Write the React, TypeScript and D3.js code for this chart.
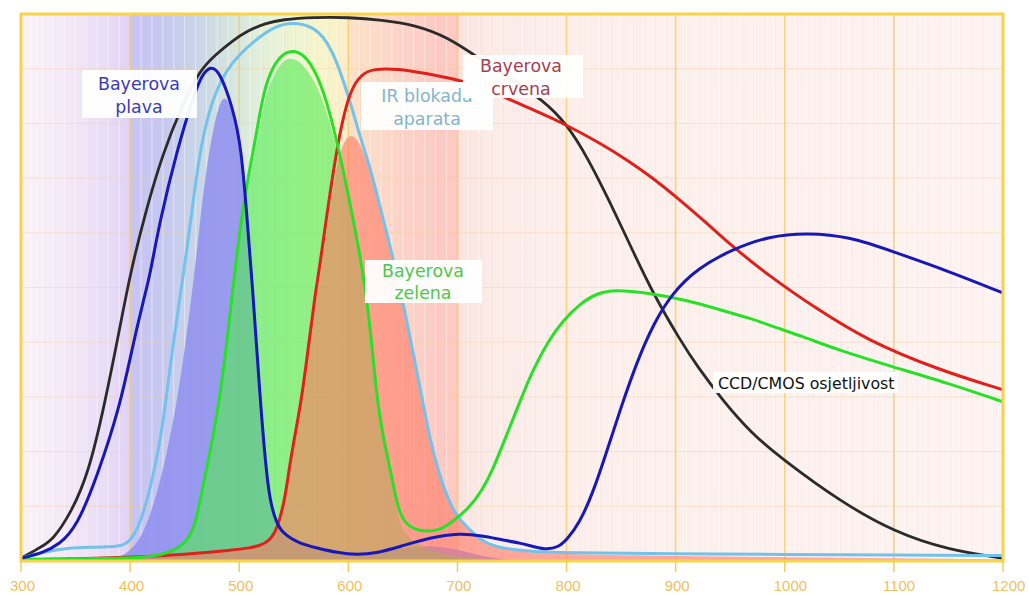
import React from 'react';
import * as d3 from 'd3';

type P = [number, number];

// x: wavelength (nm), y: relative sensitivity (%)
const xTickValues = [300, 400, 500, 600, 700, 800, 900, 1000, 1100, 1200];
const yGridValues = [10, 20, 30, 40, 50, 60, 70, 80, 90];

const ccdSensitivity: P[] = [
  [300, 0.5], [317, 2.4], [329, 3.8], [345, 8.5], [362, 16], [377, 29], [390, 42], [400, 52.5], [415, 64.5],
  [430, 74.5], [447, 83], [464, 89.8], [478, 92.5], [493, 95], [508, 97], [524, 98.3], [539, 99],
  [569, 99.4], [600, 99.4], [631, 98.9], [661, 98], [691, 95.8], [722, 91.6], [750, 88], [778, 84.3],
  [800, 80], [820, 73.5], [840, 65.5], [860, 57], [879, 49], [904, 40.4], [920, 35.5], [943, 29.4],
  [970, 23.2], [1000, 18.3], [1050, 11], [1100, 5.3], [1150, 2], [1200, 0.5],
];

const bayerBlue: P[] = [
  [300, 0.5], [320, 1.5], [335, 3], [351, 6.2], [370, 15.5], [391, 28.5], [402, 39], [412, 47.5],
  [418, 52], [427, 62], [443, 75.1], [458, 85], [466, 89], [474, 90.5], [482, 89.5], [494, 83], [502, 75.5],
  [507, 63], [512, 50.8], [519, 30], [524, 18], [528, 11], [534, 7], [540, 5], [555, 3.2], [571, 2.4],
  [590, 1.5], [608, 1.1], [627, 1.5], [647, 2.6], [675, 4.3], [702, 5.1], [723, 4.6], [740, 3.9],
  [757, 3.3], [772, 2.5], [782, 2.1], [792, 2.5], [800, 3.8], [812, 7], [824, 12.4], [836, 19.5],
  [849, 27.6], [865, 36.7], [880, 43.5], [897, 49], [920, 53.5], [952, 57], [986, 59.4], [1020, 60],
  [1060, 59.3], [1100, 56.5], [1150, 53], [1200, 49],
];

const irCutFilter: P[] = [
  [300, 0.5], [320, 1.6], [342, 2.4], [370, 2.5], [391, 2.7], [396, 3.2], [400, 3.8], [406, 5.5],
  [412, 8.8], [416, 11.5], [421, 15.5], [427, 21.5], [432, 28], [437, 36], [443, 44.5], [448, 51.4],
  [452, 56.9], [458, 66], [464, 75.1], [475, 84.5], [489, 90], [500, 92.5], [513, 95], [533, 97.8],
  [548, 98.5], [569, 97.8], [585, 94], [601, 84.5], [610, 78], [620, 72], [630, 64], [641, 55.6],
  [656, 41.7], [668, 29.4], [675, 22.1], [683, 16], [692, 11], [700, 8], [709, 6.2], [720, 4],
  [733, 2.6], [760, 1.8], [800, 1.5], [900, 1.3], [1000, 1.2], [1100, 1.1], [1200, 1.0],
];

const bayerGreen: P[] = [
  [300, 0.3], [350, 0.4], [400, 0.5], [420, 0.8], [435, 1.5], [446, 2.5], [455, 4.5], [460, 7],
  [464, 11], [473, 19.5], [482, 29.4], [490, 42], [498, 56.9], [507, 69], [513, 75.1], [519, 82],
  [525, 88], [537, 92.5], [549, 93.5], [560, 92.5], [570, 89.5], [580, 84.3], [590, 76.4], [601, 66],
  [613, 53.7], [620, 43], [626, 30], [632, 22.5], [638, 17.2], [643, 12], [647, 8.8], [652, 7],
  [660, 5.8], [672, 5.3], [685, 5.8], [693, 6.8], [710, 9.5], [723, 13], [733, 17], [742, 21.5],
  [757, 29], [767, 34], [783, 40.2], [797, 44], [812, 47], [828, 49], [845, 49.6], [874, 49],
  [910, 47.7], [941, 45.9], [970, 44.3], [987, 43], [1017, 41], [1050, 38.5], [1099, 35.5],
  [1150, 32.5], [1200, 29.1],
];

const bayerRed: P[] = [
  [300, 0.2], [350, 0.4], [403, 0.7], [450, 1.2], [494, 2], [510, 2.4], [519, 2.8], [528, 3.8],
  [533, 5.3], [537, 7.5], [542, 11.5], [546, 17.2], [551, 23], [557, 29.4], [564, 40], [569, 48],
  [575, 55.5], [580, 62.9], [590, 76.4], [601, 86], [612, 89], [623, 90], [645, 90], [670, 89.2],
  [702, 87.9], [725, 86.5], [748, 84.3], [775, 82], [797, 80], [830, 76.5], [858, 73], [879, 70],
  [901, 66.5], [930, 61.5], [952, 57.5], [987, 51.9], [1030, 46], [1075, 40.4], [1140, 35], [1200, 31.3],
];

// effective (filtered) responses, drawn as filled areas
const blueResponse: P[] = [
  [380, 0], [392, 0.8], [400, 2], [409, 3.8], [420, 9], [432, 18], [443, 29], [451, 40], [458, 51],
  [464, 62], [470, 72], [477, 80], [484, 85], [490, 84.5], [496, 80.5], [502, 74], [507, 63],
  [512, 50], [519, 29.5], [524, 17.5], [528, 10.5], [534, 6.5], [540, 4.5], [555, 3], [571, 2.2],
  [590, 1.4], [608, 1], [627, 1.3], [647, 2.2], [675, 3], [702, 2], [720, 1], [740, 0.4], [760, 0],
];

const greenResponse: P[] = [
  [420, 0], [435, 1.2], [446, 2.2], [455, 4], [464, 10.5], [473, 19], [482, 28.5], [490, 41],
  [498, 55.5], [507, 67.5], [513, 73.5], [519, 80], [525, 86], [537, 91], [547, 92.2], [558, 91],
  [570, 87.5], [580, 82.5], [590, 75], [601, 65], [613, 53], [620, 42.5], [626, 29.5], [632, 21.5],
  [638, 16], [643, 10.5], [647, 7], [652, 5], [660, 3.5], [672, 2], [693, 1], [720, 0.4], [750, 0],
];

const redResponse: P[] = [
  [300, 0.2], [350, 0.4], [403, 0.7], [450, 1.2], [494, 2], [519, 2.8], [528, 3.7], [537, 7.3],
  [546, 16.8], [557, 28.8], [564, 39], [569, 46.5], [575, 53.5], [580, 60.5], [590, 74], [600, 78.5],
  [610, 77], [620, 71.5], [630, 63.5], [641, 55.3], [656, 41.5], [668, 29.2], [675, 22], [683, 15.8],
  [692, 10.8], [700, 7.8], [709, 6], [720, 3.8], [733, 2.5], [760, 1.6], [800, 1.2], [900, 0.9],
  [1000, 0.7], [1100, 0.5], [1200, 0.3],
];

const spectrumStops: [number, string][] = [
  [300, '#fbf3f8'], [340, '#f4e9f7'], [380, '#e9dcf6'], [399, '#e0d3f6'], [400.5, '#c8c4f4'],
  [430, '#c6c8f0'], [460, '#c8d4e8'], [490, '#d4e4e0'], [520, '#e2efda'], [550, '#eef4d2'],
  [580, '#f8f4c8'], [598, '#faeecb'], [602, '#fce2c8'], [640, '#fcd6c8'], [680, '#fccbc4'],
  [699, '#fcc8c2'], [702, '#fbe4df'], [730, '#fbebe7'], [800, '#fcefeb'], [1200, '#fdf3f1'],
];

const labels = [
  { lines: ['Bayerova', 'plava'], color: '#3a3ab4', box: [82, 70, 197, 118], cx: 139, base: [90, 113] },
  { lines: ['IR blokada', 'aparata'], color: '#82b6ca', box: [361, 82, 493, 130], cx: 427, base: [102, 125] },
  { lines: ['Bayerova', 'crvena'], color: '#a5404e', box: [463, 55, 583, 98], cx: 521, base: [72, 95] },
  { lines: ['Bayerova', 'zelena'], color: '#4cc84c', box: [365, 260, 482, 303], cx: 423, base: [277, 299] },
];

export default function App() {
  const x = d3.scaleLinear().domain([300, 1200]).range([21, 1003]);
  const y = d3.scaleLinear().domain([0, 100]).range([561, 14]);
  const curve = d3.curveBasis;
  const line = d3.line<P>().x(d => x(d[0])).y(d => y(d[1])).curve(curve);
  const area = d3.area<P>().x(d => x(d[0])).y0(y(0)).y1(d => y(d[1])).curve(curve);

  const [x0, x1] = x.range();
  const [yb, yt] = y.range();
  const minor = d3.range(300, 1201, 10).filter(v => v % 100 !== 0);
  const labelFont = { fontFamily: '"DejaVu Sans", Verdana, sans-serif', fontSize: 17.4 };

  return (
    <svg width={1029} height={595} style={{ position: 'absolute', left: 0, top: 0, background: '#fff' }}>
      <defs>
        <linearGradient id="spec" gradientUnits="userSpaceOnUse" x1={x0} x2={x1} y1={0} y2={0}>
          {spectrumStops.map(([nm, c], i) => (
            <stop key={i} offset={(nm - 300) / 900} stopColor={c} />
          ))}
        </linearGradient>
        <clipPath id="plot">
          <rect x={x0} y={yt} width={x1 - x0} height={yb - yt} />
        </clipPath>
      </defs>
      <rect x={x0} y={yt} width={x1 - x0} height={yb - yt} fill="url(#spec)" />
      <g>
        {minor.map(v => (
          <line key={v} x1={x(v)} x2={x(v)} y1={yt} y2={yb} stroke="#ffffff" strokeOpacity={0.4} strokeWidth={1.2} />
        ))}
        {minor.map(v => (
          <line key={'d' + v} x1={x(v) + 1.5} x2={x(v) + 1.5} y1={yt} y2={yb} stroke="#e8c8b8" strokeOpacity={0.15} strokeWidth={1} />
        ))}
        {yGridValues.map(v => (
          <line key={v} x1={x0} x2={x1} y1={y(v)} y2={y(v)} stroke="#f2cfa0" strokeOpacity={0.45} strokeWidth={1} />
        ))}
        {xTickValues.slice(1, -1).map(v => (
          <line key={v} x1={x(v)} x2={x(v)} y1={yt} y2={yb} stroke="#f3cf72" strokeOpacity={0.85} strokeWidth={1.6} />
        ))}
      </g>
      <g clipPath="url(#plot)">
        <path d={area(blueResponse) || ''} fill="#8e8ef0" fillOpacity={0.85} />
        <path d={area(greenResponse) || ''} fill="#52ec52" fillOpacity={0.6} />
        <path d={area(redResponse) || ''} fill="#ff7864" fillOpacity={0.6} />
        <path d={line(ccdSensitivity) || ''} fill="none" stroke="#2b2b2b" strokeWidth={2.8} />
        <path d={line(irCutFilter) || ''} fill="none" stroke="#72c2ea" strokeWidth={3} />
        <path d={line(bayerRed) || ''} fill="none" stroke="#e0201c" strokeWidth={3} />
        <path d={line(bayerGreen) || ''} fill="none" stroke="#28e028" strokeWidth={3} />
        <path d={line(bayerBlue) || ''} fill="none" stroke="#1818b8" strokeWidth={3} />
      </g>
      {labels.map((l, i) => (
        <g key={i}>
          <rect x={l.box[0]} y={l.box[1]} width={l.box[2] - l.box[0]} height={l.box[3] - l.box[1]} fill="#ffffff" fillOpacity={0.95} />
          {l.lines.map((t, j) => (
            <text key={j} x={l.cx} y={l.base[j]} textAnchor="middle" fill={l.color} style={labelFont}>{t}</text>
          ))}
        </g>
      ))}
      <g>
        <rect x={713} y={372} width={185} height={21} fill="#ffffff" fillOpacity={0.95} />
        <text x={718} y={389} fill="#111" style={{ fontFamily: '"DejaVu Sans", Verdana, sans-serif', fontSize: 15.8 }}>CCD/CMOS osjetljivost</text>
      </g>
      <rect x={x0} y={yt} width={x1 - x0} height={yb - yt} fill="none" stroke="#f8d24a" strokeWidth={3} />
      <g>
        {xTickValues.map(v => (
          <g key={v}>
            <line x1={x(v)} x2={x(v)} y1={yb} y2={yb + 11} stroke="#f5cc55" strokeWidth={1.5} />
            <text x={x(v) - 11} y={591} fill="#f0c060"
              style={{ fontFamily: '"Liberation Sans", Arial, sans-serif', fontSize: 15 }}>{v}</text>
          </g>
        ))}
      </g>
    </svg>
  );
}
